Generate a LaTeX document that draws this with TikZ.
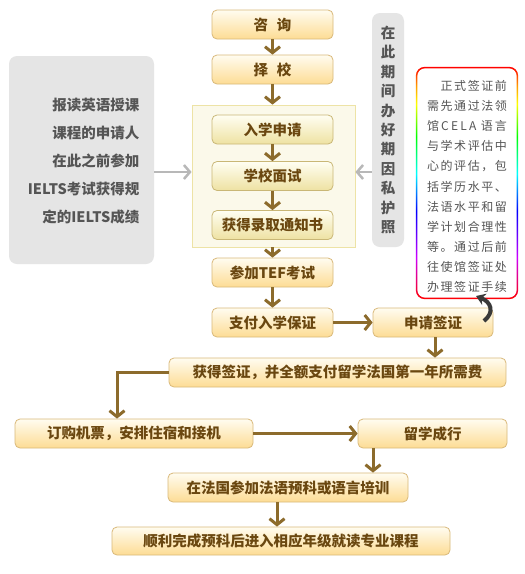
\documentclass[tikz,border=0pt]{standalone}
\usepackage{fontspec}
\setmainfont{Noto Sans CJK SC}
\usetikzlibrary{arrows.meta,calc}
\definecolor{txtbrown}{HTML}{6A4710}
\definecolor{arrbrown}{HTML}{8C6B2C}
\definecolor{oborder}{HTML}{D9B97A}
\definecolor{otop}{HTML}{FFFCF0}
\definecolor{obot}{HTML}{FDDC94}
\definecolor{gtop}{HTML}{FFFEF2}
\definecolor{gbot}{HTML}{EEE2A2}
\definecolor{gborder}{HTML}{C9B776}
\definecolor{ctfill}{HTML}{FBF9EA}
\definecolor{ctborder}{HTML}{EDE3A6}
\definecolor{graybox}{HTML}{E5E5E5}
\definecolor{graytxt}{HTML}{555555}
\definecolor{grayarr}{HTML}{B8B8B8}
\definecolor{hookgray}{HTML}{3A3A3A}
\definecolor{rborange}{HTML}{FF9900}
\definecolor{rbviolet}{HTML}{CC00FF}
\pgfdeclareverticalshading{rainbowv}{100bp}{color(0bp)=(red); color(25bp)=(red); color(34bp)=(rbviolet); color(44bp)=(blue); color(52bp)=(cyan); color(60bp)=(green); color(67bp)=(yellow); color(71bp)=(rborange); color(75bp)=(red); color(100bp)=(red)}
\newcommand{\rl}[6]{\makebox[80pt]{#1\hfill#2\hfill#3\hfill#4\hfill#5\hfill#6}}
\tikzset{
 obox/.style={draw=oborder, line width=0.8pt, rounded corners=5pt, top color=otop, bottom color=obot, minimum height=29pt, text=txtbrown, font=\bfseries\fontsize{14.5}{17}\selectfont, inner sep=0pt},
 gbox/.style={obox, draw=gborder, top color=gtop, bottom color=gbot},
 flow/.style={draw=arrbrown, line width=3pt, -{Straight Barb[length=6pt,width=15pt,line width=3pt]}},
 garrow/.style={draw=grayarr, line width=2.5pt, -{Straight Barb[length=6pt,width=14pt,line width=2.5pt]}},
 graypanel/.style={fill=graybox, rounded corners=8pt, inner sep=0pt},
}
\begin{document}
\begin{tikzpicture}[x=1pt,y=-1pt]
\useasboundingbox (0,0) rectangle (525,574);
\fill[white] (0,0) rectangle (525,574);
% side panels
\node[graypanel, minimum width=145pt, minimum height=208pt] (lb) at (81.5,160) {};
\node[anchor=east, align=right, text=graytxt, font=\bfseries\fontsize{14.5}{28}\selectfont] (lbt) at (143,161) {报读英语授课\\课程的申请人\\在此之前参加\\IELTS考试获得规\\定的IELTS成绩};
\node[graypanel, minimum width=32pt, minimum height=234pt] (vb) at (388,130) {};
\node[align=center, text=graytxt, font=\bfseries\fontsize{14.5}{19.4}\selectfont] (vbt) at (388,130) {在\\此\\期\\间\\办\\好\\期\\因\\私\\护\\照};
% rainbow note
\node[minimum width=102pt, minimum height=232pt, inner sep=0pt] (rb) at (467,183) {};
\shade[shading=rainbowv, rounded corners=9pt] (rb.south west) rectangle (rb.north east);
\fill[white, rounded corners=8pt] ([shift={(1.5pt,1.5pt)}]rb.south west) rectangle ([shift={(-1.5pt,-1.5pt)}]rb.north east);
\node[align=left, text=graytxt, font=\fontsize{12}{20.1}\selectfont, inner sep=0pt] (rbt) at (467,186.5) {%
\rl{\phantom{正}}{正}{式}{签}{证}{前}\\
\rl{需}{先}{通}{过}{法}{领}\\
\makebox[80pt]{馆\hfill C\hfill E\hfill L\hfill A\hfill\hfill 语\hfill 言}\\
\rl{与}{学}{术}{评}{估}{中}\\
\rl{心}{的}{评}{估}{，}{包}\\
\rl{括}{学}{历}{水}{平}{、}\\
\rl{法}{语}{水}{平}{和}{留}\\
\rl{学}{计}{划}{合}{理}{性}\\
\rl{等}{。}{通}{过}{后}{前}\\
\rl{往}{使}{馆}{签}{证}{处}\\
\rl{办}{理}{签}{证}{手}{续}};
% container
\node[draw=ctborder, fill=ctfill, line width=0.8pt, minimum width=163pt, minimum height=142pt, inner sep=0pt] (ct) at (273.5,176) {};
% boxes
\node[obox, minimum width=121pt] (zx) at (272.5,24.5) {咨\hspace{0.6em}询};
\node[obox, minimum width=121pt] (zs) at (272.5,69.5) {择\hspace{0.6em}校};
\node[gbox, minimum width=121pt] (rx) at (272.5,129.5) {入学申请};
\node[gbox, minimum width=121pt] (ms) at (272.5,176) {学校面试};
\node[gbox, minimum width=121pt] (lq) at (272.5,225) {获得录取通知书};
\node[obox, minimum width=121pt] (tef) at (272.5,272.5) {参加TEF考试};
\node[obox, minimum width=121pt] (bz) at (272.5,322.5) {支付入学保证};
\node[obox, minimum width=120pt] (sq) at (433,322.5) {申请签证};
\node[obox, minimum width=337pt] (hd) at (337.5,372.5) {获得签证，并全额支付留学法国第一年所需费};
\node[obox, minimum width=238pt] (dg) at (134,433.5) {订购机票，安排住宿和接机};
\node[obox, minimum width=149pt] (lx) at (432.5,433.5) {留学成行};
\node[obox, minimum width=240pt] (fg) at (288,487.5) {在法国参加法语预科或语言培训};
\node[obox, minimum width=338pt, minimum height=28pt] (sl) at (281,541) {顺利完成预科后进入相应年级就读专业课程};
% connectors
\draw[flow] (zx) -- (zs);
\draw[flow] (zs) -- (ct.north -| zs);
\draw[flow] (rx) -- (ms);
\draw[flow] (ms) -- (lq);
\draw[flow] (ct.south -| tef) -- (tef);
\draw[flow] (tef) -- (bz);
\draw[flow] (bz) -- (sq);
\draw[flow] ([xshift=2pt]sq.south) -- ([xshift=2pt]sq.south |- hd.north);
\draw[flow] (hd.west) -| ([xshift=-17pt]dg.north);
\draw[flow] (dg) -- (lx);
\draw[flow] ([xshift=-59.5pt]lx.south) -- ([xshift=-59.5pt]lx.south |- fg.north);
\draw[flow] ([xshift=-11pt]fg.south) -- ([xshift=-11pt]fg.south |- sl.north);
\draw[garrow] (lb.east |- 0,172) -- (ct.west |- 0,172);
\draw[garrow] (vb.west |- 0,172) -- (ct.east |- 0,172);
\coordinate (hs) at (484,321);
\coordinate (he) at (476,296);
\draw[hookgray, line width=4pt, -{Stealth[length=9pt,width=12pt]}] (hs) .. controls (495,312) and (491,302) .. (he);
\end{tikzpicture}
\end{document}
